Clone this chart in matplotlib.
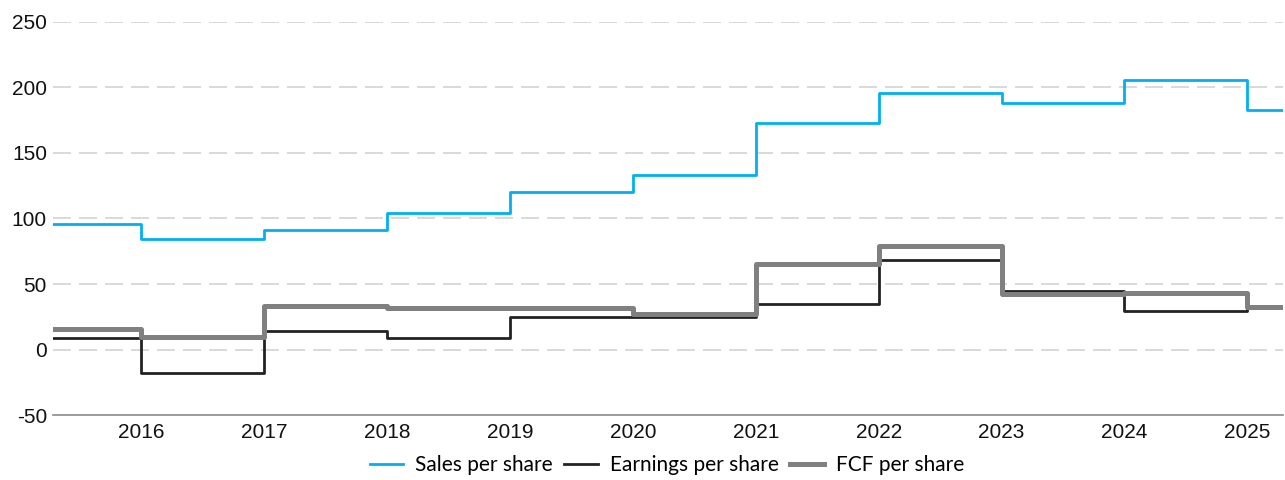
import matplotlib
matplotlib.use("Agg")
import matplotlib.pyplot as plt

plt.rcParams["axes.unicode_minus"] = False

# Per-share figures, one value per year period (first entry = partial 2015 period)
years = [2015.28, 2016, 2017, 2018, 2019, 2020, 2021, 2022, 2023, 2024, 2025]
x_end = 2025.29
sales = [96, 84, 91.5, 104, 120.5, 133, 173, 196, 188.5, 205.5, 182.5]
earnings = [8.5, -18, 14.5, 8.5, 24.5, 24.5, 34.5, 68.5, 45, 29.5, 32]
fcf = [15.5, 9.5, 33, 31.5, 31.5, 27, 65.5, 79, 42, 43.5, 32.5]

tick_years = list(range(2016, 2026))
y_ticks = [-50, 0, 50, 100, 150, 200, 250]

fig = plt.figure(figsize=(12.85, 4.8), dpi=100)
ax = fig.add_axes([0.0412, 0.1354, 0.9572, 0.8188])

xs = years + [x_end]
ax.step(xs, sales + sales[-1:], where="post", color="#00B0F0", lw=2.0, label="Sales per share", zorder=4)
ax.step(xs, earnings + earnings[-1:], where="post", color="#222222", lw=2.0, label="Earnings per share", zorder=2)
ax.step(xs, fcf + fcf[-1:], where="post", color="#808080", lw=3.6, label="FCF per share", zorder=3)

ax.set_xlim(years[0], x_end)
ax.set_ylim(-50, 250)
ax.set_yticks(y_ticks)
ax.set_xticks(tick_years)
ax.set_xticklabels([str(y) for y in tick_years])

# dashed horizontal grid, solid baseline at the bottom
for yv in y_ticks[1:]:
    ax.axhline(yv, color="#d3d3d3", lw=1.2, dashes=(10.8, 4.8), zorder=1)
for s in ["top", "right", "left"]:
    ax.spines[s].set_visible(False)
ax.spines["bottom"].set_color("#8a8a8a")
ax.spines["bottom"].set_linewidth(1.2)

ax.tick_params(axis="both", length=0, labelsize=15, labelcolor="#111111")
ax.tick_params(axis="y", pad=4.3)
ax.tick_params(axis="x", pad=5.8)
for lab in ax.get_xticklabels() + ax.get_yticklabels():
    lab.set_fontfamily("Liberation Sans")

leg = fig.legend(loc="center", bbox_to_anchor=(0.519, 15 / 480), ncol=3, frameon=False,
                 prop={"family": "Lato", "size": 15}, handlelength=1.6, columnspacing=0.55,
                 handletextpad=0.58)

fig.savefig("out.png", dpi=100)
